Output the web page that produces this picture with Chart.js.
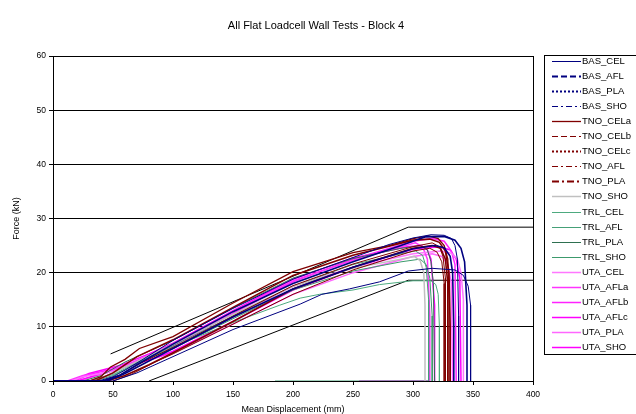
<!DOCTYPE html>
<html><head><meta charset="utf-8">
<script src="https://cdn.jsdelivr.net/npm/chart.js@4/dist/chart.umd.min.js"></script>
<style>html,body{margin:0;padding:0;background:#fff;}#wrap{width:636px;height:414px;position:relative;overflow:hidden}</style>
</head><body><div id="wrap"><canvas id="c" width="636" height="414"></canvas></div>
<script>
const TITLE = "All Flat Loadcell Wall Tests - Block 4";
const X_LABEL = "Mean Displacement (mm)";
const Y_LABEL = "Force (kN)";
const X_TICKS = [0, 50, 100, 150, 200, 250, 300, 350, 400];
const Y_TICKS = [0, 10, 20, 30, 40, 50, 60];

// [displacement mm, force kN]
const BAS_CEL  = [[0,0],[38,0],[50,0.8],[60,2],[75,4],[100,7.5],[150,13.4],[200,18.8],[250,22.8],[280,25.2],[300,26.4],[315,27],[326,26.9],[332,26.3],[335,25],[337,22.5],[338,12],[338,0]];
const BAS_AFL  = [[0,0],[42,0],[55,1],[70,3],[100,6.8],[150,12.8],[200,18],[250,22],[290,25],[310,26.6],[326,26.7],[335,26],[340,24.5],[343,22],[345,14],[345,0]];
const BAS_PLA  = [[0,0],[45,0],[60,1.4],[100,6],[150,11.8],[200,17],[250,21],[300,24.4],[318,25],[326,24.6],[331,23],[333,20],[334,10],[334,0]];
const BAS_SHO  = [[0,0],[50,0],[70,1.5],[100,4.5],[150,9.5],[206,14.2],[224,16],[247,17],[272,18.3],[296,20.3],[316,20.8],[335,20.5],[342,19.5],[346,17.5],[348,14],[348,0]];
const TNO_CELa = [[30,0],[40,0.8],[48,2.6],[60,4],[72,6],[100,8.2],[150,14.4],[200,20.2],[250,23.7],[280,25],[300,26.3],[313,26.8],[321,26.3],[326,25],[329,22.5],[330,15],[330,0]];
const TNO_CELb = [[40,0],[55,1],[75,3.5],[100,6.2],[150,12],[200,17.6],[250,21.6],[300,24.8],[316,25.5],[322,24.8],[325,23],[327,19],[327,0]];
const TNO_CELc = [[45,0],[60,1],[80,3],[100,5.2],[150,11],[200,17],[250,21],[300,24.5],[316,25],[323,24.5],[327,22.5],[329,18],[329,0]];
const TNO_AFL  = [[50,0],[65,1.2],[85,3.5],[100,5],[150,10.5],[200,16],[250,20.5],[300,24],[314,24.5],[320,23.8],[324,22],[326,18],[326,0]];
const TNO_PLA  = [[35,0],[50,1.5],[70,4.5],[100,7.6],[150,13.6],[200,19.5],[250,23.2],[300,26],[314,26.2],[322,25.6],[327,24],[330,20],[331,10],[331,0]];
const TNO_SHO  = [[35,0],[55,2],[100,6.8],[150,12.3],[200,17.5],[250,20.8],[290,22.5],[301,23],[306,22.2],[309,20],[310,14],[310,0]];
const TRL_CEL  = [[30,0],[50,1.2],[75,3.8],[100,6.3],[150,10.8],[189,14],[206,15.3],[222,16],[250,16.8],[272,17.8],[300,18.5],[315,18.5],[319,17.8],[321,16],[322,10],[322,0]];
const TRL_AFL  = [[30,0],[45,1],[70,3.5],[100,6.5],[150,12],[200,17.5],[250,21.5],[290,23.5],[302,24],[308,23.2],[311,21],[313,15],[313,0],[185,0]];
const TRL_PLA  = [[25,0],[40,1],[60,3.5],[100,7.5],[150,13.5],[200,19],[250,22.6],[290,24.5],[306,25],[312,24.2],[315,22],[317,18],[318,0]];
const TRL_SHO  = [[35,0],[50,1],[75,3.8],[100,6],[150,11.5],[200,16.8],[250,20.3],[290,22],[306,22.5],[311,21.5],[314,19],[316,12],[316,0]];
const UTA_CEL  = [[15,0],[25,0.8],[50,1.8],[75,3.8],[100,6],[150,11.8],[200,17.5],[250,21],[300,23.5],[323,24],[332,23.6],[337,22.5],[340,20],[342,15],[342,0]];
const UTA_AFLa = [[12,0],[25,1],[45,1.5],[70,3.8],[100,6.8],[150,12.8],[200,18.5],[250,22.3],[290,24.8],[302,25.5],[308,24.8],[312,22.5],[314,12],[314,0],[255,0]];
const UTA_AFLb = [[18,0],[30,1.2],[55,2.5],[80,4.5],[100,6.5],[150,12.5],[200,18.3],[250,22.5],[300,25.8],[316,26.3],[326,25.8],[332,24],[335,21.5],[336,0]];
const UTA_AFLc = [[20,0],[35,1],[60,2.6],[85,4.2],[100,5.5],[150,11],[200,16.8],[250,21],[300,24.3],[322,24.8],[331,24.2],[336,22.5],[339,19],[340,0]];
const UTA_PLA  = [[22,0],[40,1.3],[65,3],[100,5.2],[150,10.5],[200,16],[250,20],[300,23],[316,23.5],[324,23],[329,21.5],[332,18],[333,0]];
const UTA_SHO  = [[15,0],[30,1.4],[55,2.8],[80,5],[100,7],[150,13],[200,18.8],[250,22.7],[295,24.8],[307,25],[312,24.2],[315,22.5],[318,14],[318,0]];
const ENV_UPPER = [[48,5],[296,28.4],[400,28.4]];
const ENV_LOWER = [[80,0],[296,18.6],[400,18.6]];

const NAVY = '#000080', MAROON = '#800000', SILVER = '#C0C0C0';
const SERIES = [
  {name:'BAS_CEL',  d:BAS_CEL,  c:NAVY,   w:1,   dash:[]},
  {name:'BAS_AFL',  d:BAS_AFL,  c:NAVY,   w:2.2, dash:[6,3]},
  {name:'BAS_PLA',  d:BAS_PLA,  c:NAVY,   w:2,   dash:[2,2]},
  {name:'BAS_SHO',  d:BAS_SHO,  c:NAVY,   w:1,   dash:[6,3,2,3]},
  {name:'TNO_CELa', d:TNO_CELa, c:MAROON, w:1.3, dash:[]},
  {name:'TNO_CELb', d:TNO_CELb, c:MAROON, w:1,   dash:[6,3]},
  {name:'TNO_CELc', d:TNO_CELc, c:MAROON, w:2,   dash:[2,2]},
  {name:'TNO_AFL',  d:TNO_AFL,  c:MAROON, w:1,   dash:[6,3,2,3]},
  {name:'TNO_PLA',  d:TNO_PLA,  c:MAROON, w:2.2, dash:[7,3,2,3]},
  {name:'TNO_SHO',  d:TNO_SHO,  c:SILVER, w:1.5, dash:[]},
  {name:'TRL_CEL',  d:TRL_CEL,  c:'#4DAA7F', w:1, dash:[]},
  {name:'TRL_AFL',  d:TRL_AFL,  c:'#45A077', w:1, dash:[]},
  {name:'TRL_PLA',  d:TRL_PLA,  c:'#2E7050', w:1, dash:[]},
  {name:'TRL_SHO',  d:TRL_SHO,  c:'#3C9A6C', w:1, dash:[]},
  {name:'UTA_CEL',  d:UTA_CEL,  c:'#FF77FF', w:1.5, dash:[]},
  {name:'UTA_AFLa', d:UTA_AFLa, c:'#FF33FF', w:1.5, dash:[]},
  {name:'UTA_AFLb', d:UTA_AFLb, c:'#FF22FF', w:1.5, dash:[]},
  {name:'UTA_AFLc', d:UTA_AFLc, c:'#FF00FF', w:1.5, dash:[]},
  {name:'UTA_PLA',  d:UTA_PLA,  c:'#FF66FF', w:1.5, dash:[]},
  {name:'UTA_SHO',  d:UTA_SHO,  c:'#FF00FF', w:1.5, dash:[]}
];

const FONT = "'Liberation Sans', Arial, sans-serif";

// Plotted curves are dense in the source, so their dash patterns read as near-solid lines
const datasets = SERIES.map(s => ({
  label: s.name,
  data: s.d.map(p => ({x:p[0], y:p[1]})),
  borderColor: s.c, borderWidth: Math.min(s.w, 1.6),
  pointRadius: 0, showLine: true, fill: false, tension: 0
}));
datasets.push({label:'_envU', data: ENV_UPPER.map(p=>({x:p[0],y:p[1]})), borderColor:'#000', borderWidth:1, pointRadius:0, showLine:true, tension:0});
datasets.push({label:'_envL', data: ENV_LOWER.map(p=>({x:p[0],y:p[1]})), borderColor:'#000', borderWidth:1, pointRadius:0, showLine:true, tension:0});

const decor = {
  id:'decor',
  afterDraw(chart){
    const ctx = chart.ctx, a = chart.chartArea;
    ctx.save();
    ctx.strokeStyle = '#000'; ctx.lineWidth = 1; ctx.setLineDash([]);
    ctx.strokeRect(Math.round(a.left)+0.5, Math.round(a.top)+0.5, Math.round(a.right-a.left), Math.round(a.bottom-a.top));
    ctx.fillStyle = '#000';
    ctx.font = '11px ' + FONT; ctx.textAlign = 'center'; ctx.textBaseline = 'middle';
    ctx.fillText(TITLE, 316, 26);
    ctx.font = '9px ' + FONT;
    ctx.fillText(X_LABEL, (a.left+a.right)/2, 410);
    ctx.save(); ctx.translate(17, (a.top+a.bottom)/2); ctx.rotate(-Math.PI/2);
    ctx.fillText(Y_LABEL, 0, 0); ctx.restore();
    // legend
    ctx.lineWidth = 1; ctx.strokeStyle = '#000';
    ctx.strokeRect(544.5, 55.5, 100, 299);
    ctx.textAlign = 'left'; ctx.font = '9.5px ' + FONT;
    SERIES.forEach((s,i) => {
      const y = Math.round(61 + i*15.05) + 0.5;
      ctx.strokeStyle = s.c; ctx.lineWidth = s.w; ctx.setLineDash(s.dash);
      ctx.beginPath(); ctx.moveTo(552, y); ctx.lineTo(581, y); ctx.stroke();
      ctx.setLineDash([]); ctx.fillStyle = '#000';
      ctx.fillText(s.name, 582, y);
    });
    ctx.restore();
  }
};

new Chart(document.getElementById('c'), {
  type: 'scatter',
  data: { datasets },
  plugins: [decor],
  options: {
    responsive:false, animation:false, devicePixelRatio:1,
    layout: { padding: { left:0, right:103, top:56, bottom:0 } },
    plugins: { legend:{display:false}, title:{display:false}, tooltip:{enabled:false} },
    scales: {
      x: {
        type:'linear', min:0, max:400,
        afterBuildTicks: sc => { sc.ticks = X_TICKS.map(v=>({value:v})); },
        afterFit: sc => { sc.height = 33; },
        grid: { display:true, drawOnChartArea:false, drawTicks:true, tickLength:4, color:'#000' },
        border: { display:true, color:'#000', width:1 },
        ticks: { color:'#000', font:{family:FONT, size:8.5}, padding:5, maxRotation:0 }
      },
      y: {
        type:'linear', min:0, max:60,
        afterBuildTicks: sc => { sc.ticks = Y_TICKS.map(v=>({value:v})); },
        afterFit: sc => { sc.width = 53; },
        grid: { display:true, drawOnChartArea:true, drawTicks:true, tickLength:4, color:'#000', lineWidth:1 },
        border: { display:true, color:'#000', width:1 },
        ticks: { color:'#000', font:{family:FONT, size:8.5}, padding:3 }
      }
    }
  }
});
</script>
</body></html>
